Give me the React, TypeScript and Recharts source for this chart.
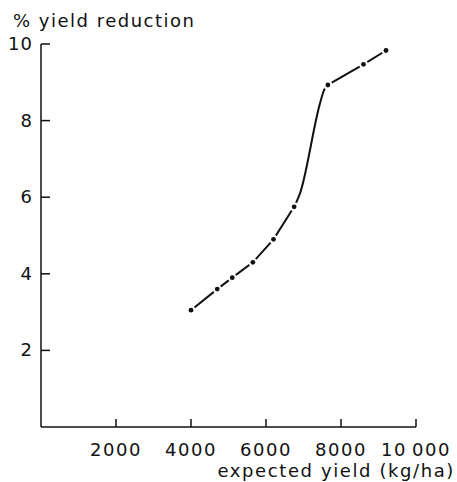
import { LineChart, Line, XAxis, YAxis } from "recharts";

// expected yield (kg/ha) vs % yield reduction
const lowYield = [4000, 4700, 5100, 5650, 6200, 6750];
const lowReduction = [3.05, 3.6, 3.9, 4.3, 4.9, 5.75];
// undotted steep stretch
const curveYield = [6750, 6907, 7440, 7550, 7650];
const curveReduction = [5.75, 6.1, 8.45, 8.8, 8.93];
const highYield = [7650, 8600, 9200];
const highReduction = [8.93, 9.47, 9.83];
const xTicks = [2000, 4000, 6000, 8000, 10000];
const yTicks = [2, 4, 6, 8, 10];

const toPoints = (xs: number[], ys: number[]) => xs.map((x, i) => ({ x, y: ys[i] }));
const lowData = toPoints(lowYield, lowReduction);
const curveData = toPoints(curveYield, curveReduction);
const highData = toPoints(highYield, highReduction);

const FONT = "'DejaVu Sans', sans-serif";
const INK = "#111";

function XTick({ x, y, payload }: any) {
  const label = payload.value === 10000 ? "10\u2009000" : String(payload.value);
  return (
    <g>
      <line x1={x} x2={x} y1={y} y2={y - 8} stroke={INK} strokeWidth={1.5} />
      <text x={x} y={y + 29} textAnchor="middle" fontFamily={FONT} fontSize={18} letterSpacing={1.5} fill={INK}>
        {label}
      </text>
    </g>
  );
}

function YTick({ x, y, payload }: any) {
  return (
    <g>
      <line x1={x} x2={x + 9} y1={y} y2={y} stroke={INK} strokeWidth={1.5} />
      <text x={x - 8} y={y + 6} textAnchor="end" fontFamily={FONT} fontSize={18} letterSpacing={1} fill={INK}>
        {payload.value}
      </text>
    </g>
  );
}

function Dot(props: any) {
  const { cx, cy, index } = props;
  return (
    <g key={`dot-${index}`}>
      <circle cx={cx} cy={cy} r={4.5} fill="#fff" />
      <circle cx={cx} cy={cy} r={2.4} fill={INK} />
    </g>
  );
}

export default function App() {
  return (
    <div style={{ position: "absolute", left: 0, top: 0, width: 457, height: 482, background: "#fff", fontFamily: FONT, color: INK }}>
      <div style={{ position: "absolute", left: 13, top: 10, fontSize: 18, letterSpacing: 1.5, whiteSpace: "nowrap" }}>
        % yield reduction
      </div>
      <LineChart width={457} height={482} margin={{ top: 44, right: 41, bottom: 0, left: 0 }}>
        <XAxis
          type="number"
          dataKey="x"
          domain={[0, 10000]}
          ticks={xTicks}
          height={55}
          tickSize={0}
          tickMargin={0}
          tickLine={false}
          axisLine={{ stroke: INK, strokeWidth: 1.5 }}
          tick={<XTick />}
          interval={0}
          allowDuplicatedCategory={false}
        />
        <YAxis
          type="number"
          dataKey="y"
          domain={[0, 10]}
          ticks={yTicks}
          width={41}
          tickSize={0}
          tickMargin={0}
          tickLine={false}
          axisLine={{ stroke: INK, strokeWidth: 1.5 }}
          tick={<YTick />}
          interval={0}
        />
        <Line
          data={curveData}
          type="monotone"
          dataKey="y"
          stroke={INK}
          strokeWidth={2}
          dot={false}
          activeDot={false}
          isAnimationActive={false}
        />
        <Line
          data={lowData}
          type="linear"
          dataKey="y"
          stroke={INK}
          strokeWidth={2}
          dot={Dot}
          activeDot={false}
          isAnimationActive={false}
        />
        <Line
          data={highData}
          type="linear"
          dataKey="y"
          stroke={INK}
          strokeWidth={2}
          dot={Dot}
          activeDot={false}
          isAnimationActive={false}
        />
      </LineChart>
      <div style={{ position: "absolute", right: 2, top: 460, fontSize: 18, letterSpacing: 1.6, whiteSpace: "nowrap" }}>
        expected yield (kg/ha)
      </div>
    </div>
  );
}
